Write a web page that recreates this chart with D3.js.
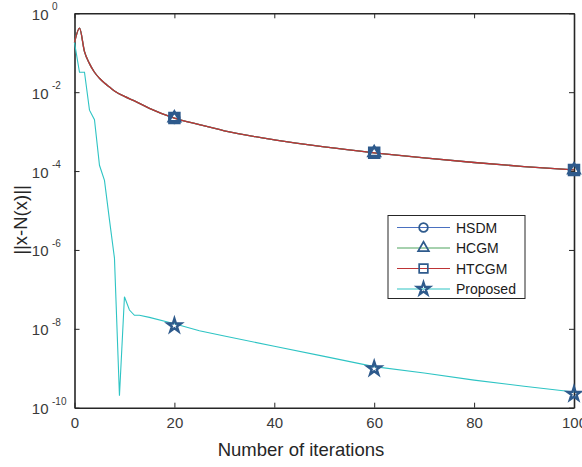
<!DOCTYPE html>
<html>
<head>
<meta charset="utf-8">
<script src="https://cdn.jsdelivr.net/npm/d3@7"></script>
<style>
  body { margin: 0; background: #fff; }
  svg { font-family: "Liberation Sans", Arial, sans-serif; }
</style>
</head>
<body>
<svg width="582" height="467"></svg>
<script>
var methodIters = [0, 1, 2, 3, 4, 5, 6, 7, 8, 10, 12, 15, 20, 25, 30, 40, 50, 60, 70, 80, 90, 100];
// HSDM, HCGM, HTCGM lie on top of each other
var hsdmVals = [1.8e-1, 4.2e-1, 1.07e-1, 5.3e-2, 3.2e-2, 2.25e-2, 1.7e-2, 1.35e-2, 1.07e-2, 7.8e-3, 6.0e-3, 3.9e-3,
                2.2e-3, 1.5e-3, 1.05e-3, 6.2e-4, 4.1e-4, 2.9e-4, 2.15e-4, 1.65e-4, 1.3e-4, 1.07e-4];
var hcgmVals = hsdmVals.slice();
var htcgmVals = hsdmVals.slice();

var propIters = [0, 1, 2, 3, 4, 5, 6, 7, 8, 9, 10, 11, 12, 13, 15, 20, 25, 30, 40, 50, 60, 70, 80, 90, 100];
var propVals = [1.8e-1, 3.2e-2, 3.2e-2, 3.5e-3, 2.0e-3, 1.4e-4, 5.8e-5, 5.8e-6, 6.2e-7, 2.0e-10, 6.5e-8, 3.0e-8,
                2.2e-8, 2.2e-8, 1.95e-8, 1.35e-8, 8.9e-9, 6.6e-9, 3.6e-9, 2.0e-9, 1.1e-9, 7.6e-10, 5.0e-10, 3.5e-10, 2.5e-10];

var markerIters = [20, 60, 100];
var xTicks = [0, 20, 40, 60, 80, 100];
var yTickExps = [0, -2, -4, -6, -8, -10];
var seriesNames = ["HSDM", "HCGM", "HTCGM", "Proposed"];

var svg = d3.select("svg");
var plotLeft = 74.5, plotRight = 574, plotTop = 13.3, plotBottom = 407.7;

var x = d3.scaleLinear().domain([0, 100]).range([plotLeft, plotRight]);
var y = d3.scaleLog().domain([1e-10, 1]).range([plotBottom, plotTop]);

var axisColor = "#262626", textColor = "#3a3a3a", markColor = "#2e5a8c";
var colors = ["#4a70c0", "#4ea35e", "#bd3436", "#2ec4c4"];

// axes (ticks pointing inwards, full box)
var gx = svg.append("g").attr("transform", "translate(0," + plotBottom + ")")
    .call(d3.axisBottom(x).tickValues(xTicks).tickSizeInner(-5).tickSizeOuter(0).tickPadding(10));
svg.append("g").attr("transform", "translate(0," + plotTop + ")")
    .call(d3.axisTop(x).tickValues(xTicks).tickSizeInner(-5).tickSizeOuter(0).tickFormat(""));
var yTickVals = yTickExps.map(function (e) { return Math.pow(10, e); });
svg.append("g").attr("transform", "translate(" + plotLeft + ",0)")
    .call(d3.axisLeft(y).tickValues(yTickVals).tickSizeInner(-5).tickSizeOuter(0).tickFormat(""));
svg.append("g").attr("transform", "translate(" + plotRight + ",0)")
    .call(d3.axisRight(y).tickValues(yTickVals).tickSizeInner(-5).tickSizeOuter(0).tickFormat(""));

svg.selectAll(".domain").attr("stroke", axisColor).attr("stroke-width", 1.6);
svg.selectAll(".tick line").attr("stroke", axisColor).attr("stroke-width", 1);
gx.selectAll(".tick text").attr("font-size", 15).attr("fill", textColor)
    .attr("font-family", "Liberation Sans, Arial, sans-serif");

// y tick labels with superscript exponents
var yl = svg.append("g").selectAll("g").data(yTickExps).enter().append("g");
yl.append("text")
    .attr("x", 48.5).attr("y", function (d) { return y(Math.pow(10, d)) + 6.5; })
    .attr("text-anchor", "end").attr("font-size", 15).attr("fill", textColor)
    .text("10");
yl.append("text")
    .attr("x", 52).attr("y", function (d) { return y(Math.pow(10, d)) - 3; })
    .attr("font-size", 10).attr("fill", textColor)
    .text(function (d) { return d; });

// axis titles
svg.append("text").attr("x", 301).attr("y", 456).attr("text-anchor", "middle")
    .attr("font-size", 18.5).attr("fill", "#262626").text("Number of iterations");
svg.append("text").attr("transform", "translate(27,220) rotate(-90)").attr("text-anchor", "middle")
    .attr("font-size", 18.5).attr("fill", "#262626").text("||x-N(x)||");

// lines
var line = d3.line().x(function (d) { return x(d[0]); }).y(function (d) { return y(d[1]); });
var smooth = d3.line().curve(d3.curveMonotoneX).x(function (d) { return x(d[0]); }).y(function (d) { return y(d[1]); });

function pairs(xs, vs) { return xs.map(function (v, i) { return [v, vs[i]]; }); }

var methodSeries = [hsdmVals, hcgmVals, htcgmVals];
methodSeries.forEach(function (vals, i) {
    svg.append("path").datum(pairs(methodIters, vals))
        .attr("d", smooth).attr("fill", "none").attr("stroke", colors[i]).attr("stroke-width", 1.3);
});
svg.append("path").datum(pairs(propIters, propVals))
    .attr("d", line).attr("fill", "none").attr("stroke", colors[3]).attr("stroke-width", 1.1);

// markers
var symCircle = d3.symbol().type(d3.symbolCircle).size(75);
var symTri = d3.symbol().type(d3.symbolTriangle).size(55);
var symSquare = d3.symbol().type(d3.symbolSquare).size(100);
var symStar = d3.symbol().type(d3.symbolStar).size(55);

function valAt(xs, vs, it) { return vs[xs.indexOf(it)]; }

[symCircle, symTri, symSquare].forEach(function (sym, i) {
    svg.append("g").selectAll("path").data(markerIters).enter().append("path")
        .attr("transform", function (d) {
            return "translate(" + x(d) + "," + y(valAt(methodIters, methodSeries[i], d)) + ")";
        })
        .attr("d", sym).attr("fill", "none").attr("stroke", markColor).attr("stroke-width", 2.5);
});
svg.append("g").selectAll("path").data(markerIters).enter().append("path")
    .attr("transform", function (d) {
        return "translate(" + x(d) + "," + (y(valAt(propIters, propVals, d)) + 2) + ")";
    })
    .attr("d", symStar).attr("fill", "none").attr("stroke", markColor).attr("stroke-width", 2.4);

// legend
var lg = svg.append("g");
lg.append("rect").attr("x", 388).attr("y", 215.5).attr("width", 137).attr("height", 83)
    .attr("fill", "#fff").attr("stroke", axisColor).attr("stroke-width", 1);
var legSyms = [
    d3.symbol().type(d3.symbolCircle).size(60),
    d3.symbol().type(d3.symbolTriangle).size(50),
    d3.symbol().type(d3.symbolSquare).size(75),
    d3.symbol().type(d3.symbolStar).size(50)
];
seriesNames.forEach(function (name, i) {
    var ry = 227.5 + i * 20.5;
    lg.append("line").attr("x1", 397).attr("x2", 450).attr("y1", ry).attr("y2", ry)
        .attr("stroke", colors[i]).attr("stroke-width", 1.2);
    lg.append("path").attr("transform", "translate(423.5," + ry + ")").attr("d", legSyms[i])
        .attr("fill", "none").attr("stroke", markColor).attr("stroke-width", i === 3 ? 2.2 : 1.7);
    lg.append("text").attr("x", 456).attr("y", ry + 5).attr("font-size", 14).attr("fill", "#1a1a1a").text(name);
});
</script>
</body>
</html>
